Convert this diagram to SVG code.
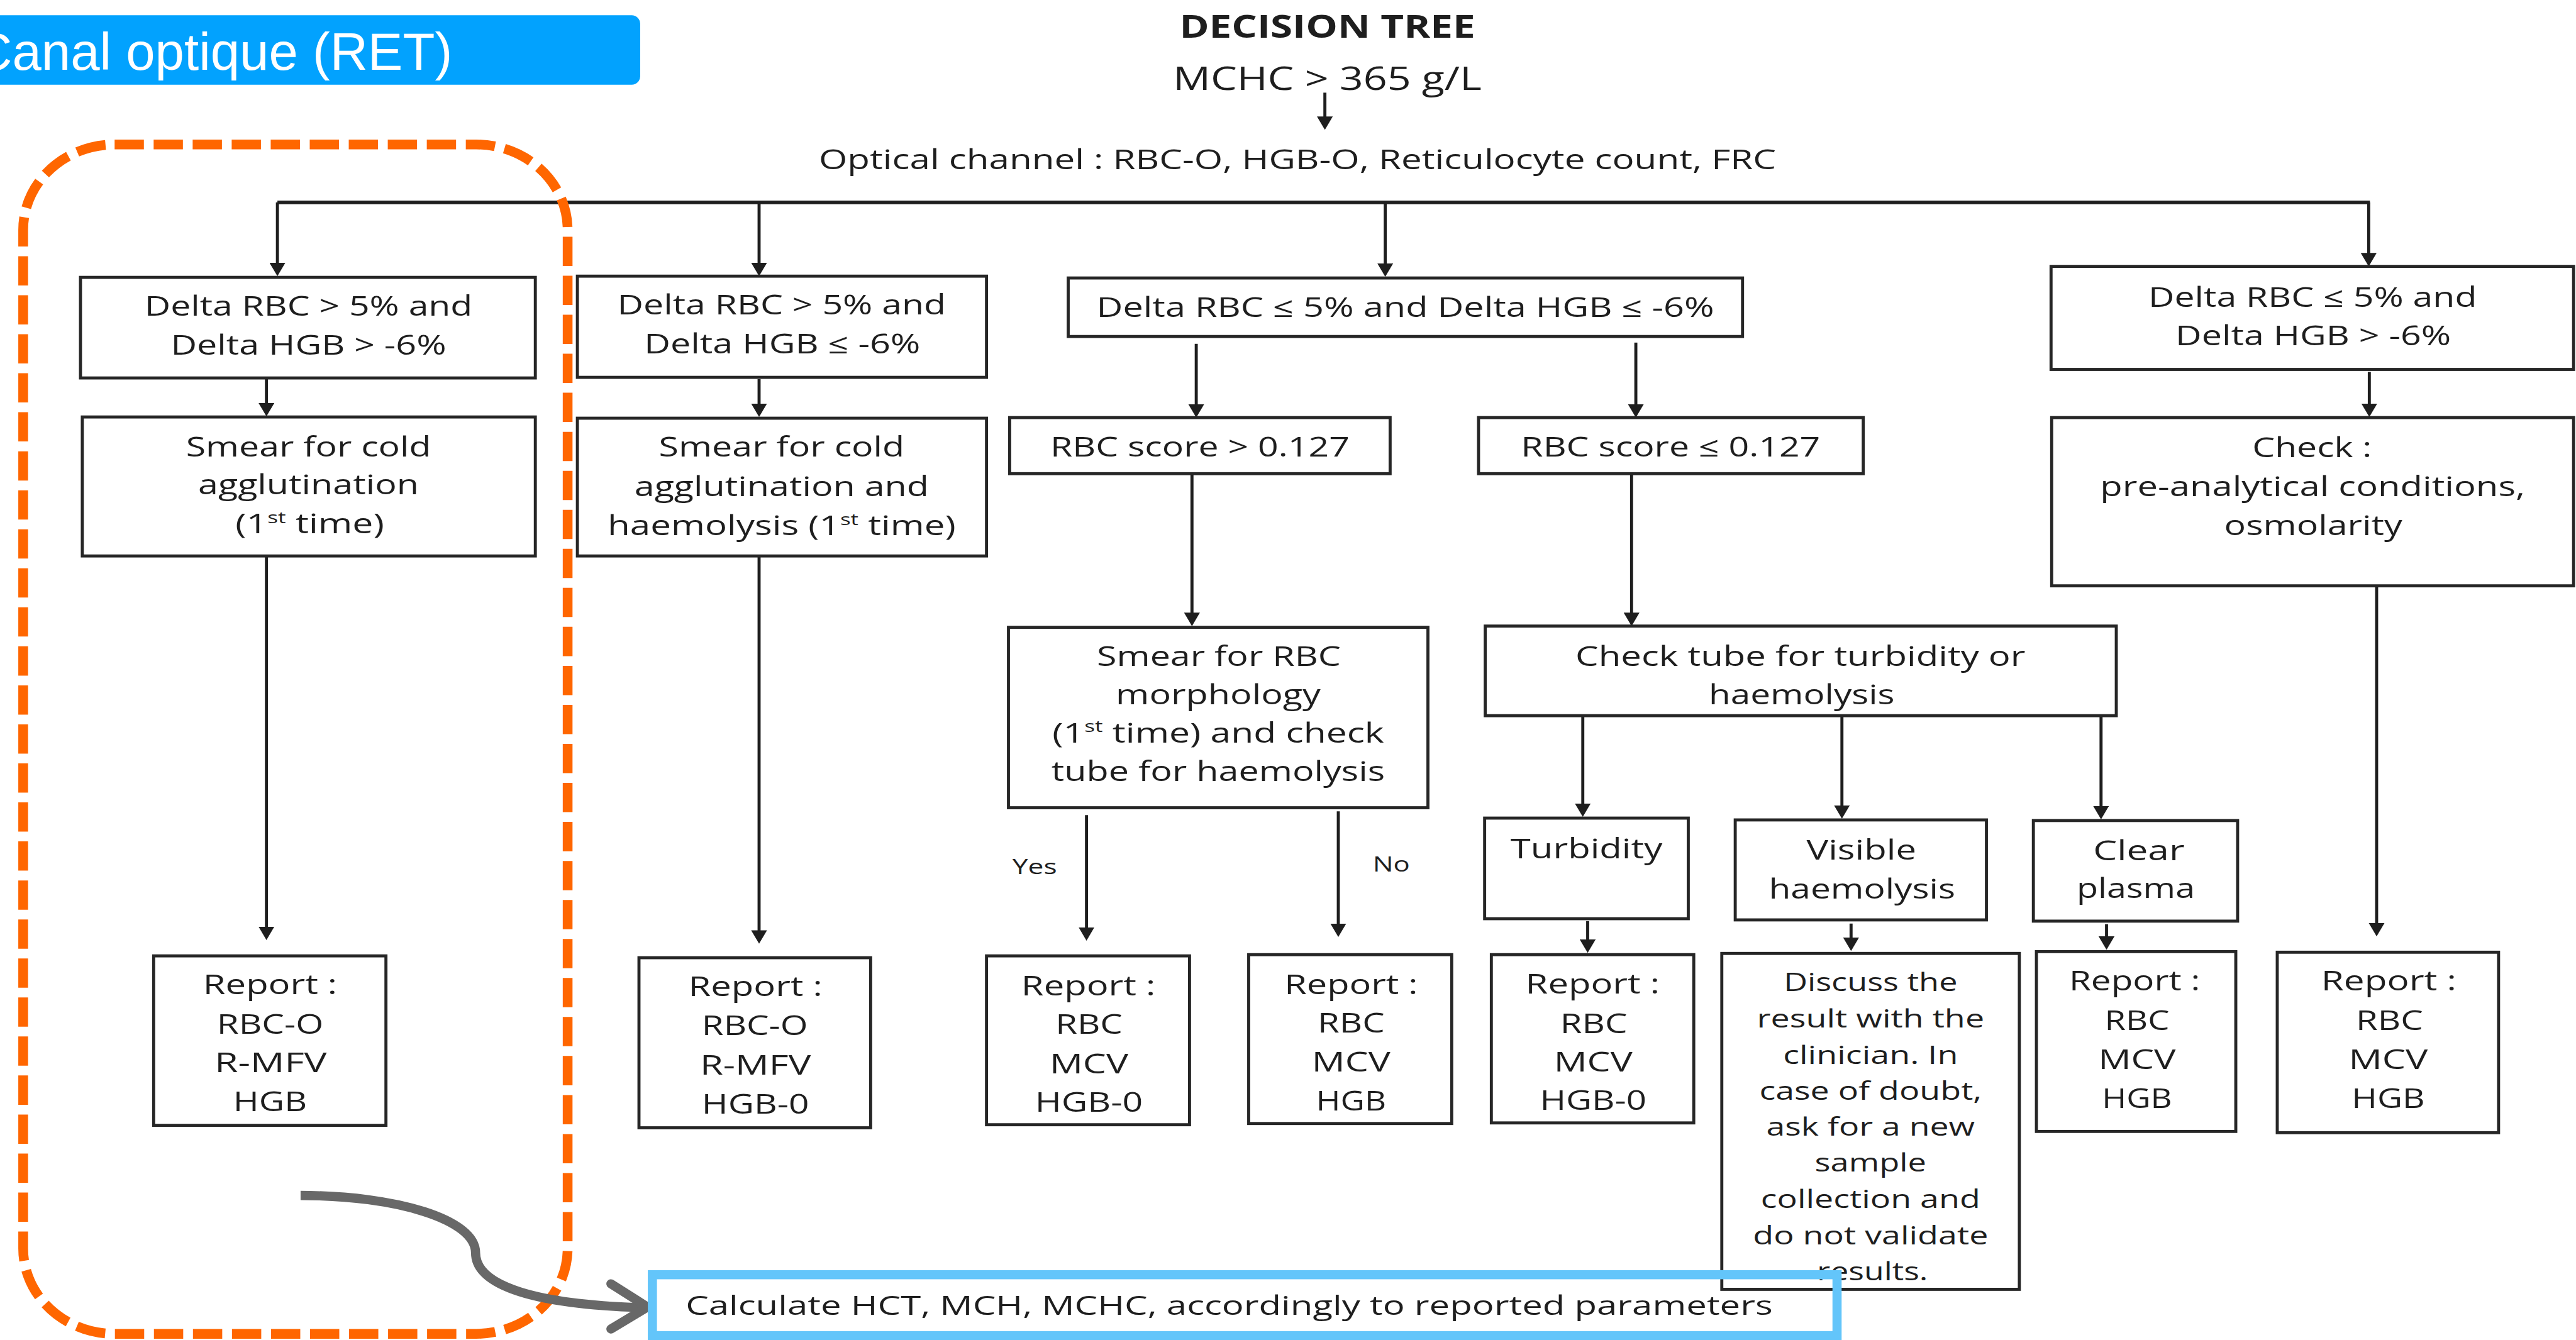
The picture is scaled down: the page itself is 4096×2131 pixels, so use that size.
<svg xmlns="http://www.w3.org/2000/svg" width="4096" height="2131" viewBox="0 0 4096 2131">
<defs>
<style>
.bx{fill:#fff;stroke:#262626;stroke-width:5}
.t{font-family:"Open Sans","DejaVu Sans",sans-serif;font-size:45px;fill:#1e1e1e;text-anchor:middle}
.s{font-size:41px}
.yn{font-size:34px}
.big{font-size:52px}
.bold{font-weight:bold}
.sup{font-size:27px}
.c{stroke:#1e1e1e;stroke-width:5;fill:none;marker-end:url(#ah)}
</style>
<marker id="ah" markerUnits="userSpaceOnUse" viewBox="0 0 22 26" refX="10" refY="13" markerWidth="22" markerHeight="26" orient="auto">
<path d="M0,0 L22,13 L0,26 z" fill="#1e1e1e"/>
</marker>
</defs>
<rect x="0" y="0" width="4096" height="2131" fill="#fff"/>
<g transform="scale(0.96947)">

<g id="header">
<text class="t big bold" x="2177" y="62" textLength="485" lengthAdjust="spacingAndGlyphs">DECISION TREE</text>
<text class="t big" x="2177" y="147" textLength="506" lengthAdjust="spacingAndGlyphs">MCHC &gt; 365 g/L</text>
<text class="t" x="2128" y="277" textLength="1570" lengthAdjust="spacingAndGlyphs">Optical channel : RBC-O, HGB-O, Reticulocyte count, FRC</text>
</g>

<g id="connectors">
<line class="c" x1="2173" y1="152" x2="2173" y2="201"/>
<line x1="455" y1="332" x2="3887" y2="332" stroke="#1e1e1e" stroke-width="6"/>
<line class="c" x1="455" y1="332" x2="455" y2="441"/>
<line class="c" x1="1245" y1="332" x2="1245" y2="441"/>
<line class="c" x1="2272" y1="332" x2="2272" y2="442"/>
<line class="c" x1="3885" y1="332" x2="3885" y2="425"/>
<line class="c" x1="437" y1="622" x2="437" y2="671"/>
<line class="c" x1="1245" y1="622" x2="1245" y2="672"/>
<line class="c" x1="1962" y1="564" x2="1962" y2="673"/>
<line class="c" x1="2683" y1="562" x2="2683" y2="673"/>
<line class="c" x1="3886" y1="610" x2="3886" y2="672"/>
<line class="c" x1="1955" y1="777" x2="1955" y2="1015"/>
<line class="c" x1="2676" y1="777" x2="2676" y2="1015"/>
<line class="c" x1="2596" y1="1174" x2="2596" y2="1328"/>
<line class="c" x1="3021" y1="1174" x2="3021" y2="1331"/>
<line class="c" x1="3446" y1="1174" x2="3446" y2="1332"/>
<line class="c" x1="437" y1="912" x2="437" y2="1530"/>
<line class="c" x1="1245" y1="912" x2="1245" y2="1536"/>
<line class="c" x1="1782" y1="1337" x2="1782" y2="1531"/>
<line class="c" x1="2195" y1="1331" x2="2195" y2="1525"/>
<line class="c" x1="2604" y1="1511" x2="2604" y2="1551"/>
<line class="c" x1="3036" y1="1515" x2="3036" y2="1548"/>
<line class="c" x1="3455" y1="1516" x2="3455" y2="1546"/>
<line class="c" x1="3898" y1="961" x2="3898" y2="1524"/>
</g>

<g id="n-delta1">
<rect class="bx" x="132" y="455" width="746" height="165"/>
<text class="t" x="506" y="518" textLength="538" lengthAdjust="spacingAndGlyphs">Delta RBC &gt; 5% and</text>
<text class="t" x="506" y="582" textLength="452" lengthAdjust="spacingAndGlyphs">Delta HGB &gt; -6%</text>
</g>
<g id="n-smear1">
<rect class="bx" x="135" y="684" width="743" height="228"/>
<text class="t" x="506" y="749" textLength="402" lengthAdjust="spacingAndGlyphs">Smear for cold</text>
<text class="t" x="506" y="811" textLength="362" lengthAdjust="spacingAndGlyphs">agglutination</text>
<text class="t" x="508" y="875" textLength="244" lengthAdjust="spacingAndGlyphs">(1<tspan class="sup" dy="-17">st</tspan><tspan dy="17"> time)</tspan></text>
</g>
<g id="n-delta2">
<rect class="bx" x="947" y="453" width="671" height="166"/>
<text class="t" x="1282" y="516" textLength="539" lengthAdjust="spacingAndGlyphs">Delta RBC &gt; 5% and</text>
<text class="t" x="1283" y="580" textLength="453" lengthAdjust="spacingAndGlyphs">Delta HGB ≤ -6%</text>
</g>
<g id="n-smear2">
<rect class="bx" x="947" y="686" width="671" height="226"/>
<text class="t" x="1282" y="749" textLength="403" lengthAdjust="spacingAndGlyphs">Smear for cold</text>
<text class="t" x="1282" y="814" textLength="483" lengthAdjust="spacingAndGlyphs">agglutination and</text>
<text class="t" x="1282" y="878" textLength="571" lengthAdjust="spacingAndGlyphs">haemolysis (1<tspan class="sup" dy="-17">st</tspan><tspan dy="17"> time)</tspan></text>
</g>
<g id="n-delta3">
<rect class="bx" x="1752" y="456" width="1106" height="96"/>
<text class="t" x="2305" y="520" textLength="1013" lengthAdjust="spacingAndGlyphs">Delta RBC ≤ 5% and Delta HGB ≤ -6%</text>
</g>
<g id="n-delta4">
<rect class="bx" x="3364" y="437" width="857" height="169"/>
<text class="t" x="3793" y="503" textLength="539" lengthAdjust="spacingAndGlyphs">Delta RBC ≤ 5% and</text>
<text class="t" x="3794" y="566" textLength="452" lengthAdjust="spacingAndGlyphs">Delta HGB &gt; -6%</text>
</g>
<g id="n-check">
<rect class="bx" x="3365" y="685" width="856" height="276"/>
<text class="t" x="3792" y="750" textLength="196" lengthAdjust="spacingAndGlyphs">Check :</text>
<text class="t" x="3793" y="814" textLength="697" lengthAdjust="spacingAndGlyphs">pre-analytical conditions,</text>
<text class="t" x="3794" y="878" textLength="292" lengthAdjust="spacingAndGlyphs">osmolarity</text>
</g>
<g id="n-score-hi">
<rect class="bx" x="1656" y="685" width="624" height="92"/>
<text class="t" x="1968" y="749" textLength="491" lengthAdjust="spacingAndGlyphs">RBC score &gt; 0.127</text>
</g>
<g id="n-score-lo">
<rect class="bx" x="2425" y="685" width="631" height="92"/>
<text class="t" x="2740" y="749" textLength="491" lengthAdjust="spacingAndGlyphs">RBC score ≤ 0.127</text>
</g>
<g id="n-smear-rbc">
<rect class="bx" x="1654" y="1029" width="688" height="296"/>
<text class="t" x="1999" y="1092" textLength="400" lengthAdjust="spacingAndGlyphs">Smear for RBC</text>
<text class="t" x="1998" y="1155" textLength="336" lengthAdjust="spacingAndGlyphs">morphology</text>
<text class="t" x="1998" y="1218" textLength="544" lengthAdjust="spacingAndGlyphs">(1<tspan class="sup" dy="-17">st</tspan><tspan dy="17"> time) and check</tspan></text>
<text class="t" x="1998" y="1281" textLength="547" lengthAdjust="spacingAndGlyphs">tube for haemolysis</text>
</g>
<g id="n-tube">
<rect class="bx" x="2436" y="1027" width="1035" height="147"/>
<text class="t" x="2953" y="1092" textLength="738" lengthAdjust="spacingAndGlyphs">Check tube for turbidity or</text>
<text class="t" x="2955" y="1155" textLength="305" lengthAdjust="spacingAndGlyphs">haemolysis</text>
</g>
<g id="n-turbidity">
<rect class="bx" x="2435" y="1342" width="334" height="165"/>
<text class="t" x="2602" y="1408" textLength="249" lengthAdjust="spacingAndGlyphs">Turbidity</text>
</g>
<g id="n-visible">
<rect class="bx" x="2846" y="1345" width="412" height="164"/>
<text class="t" x="3053" y="1410" textLength="180" lengthAdjust="spacingAndGlyphs">Visible</text>
<text class="t" x="3054" y="1474" textLength="306" lengthAdjust="spacingAndGlyphs">haemolysis</text>
</g>
<g id="n-clear">
<rect class="bx" x="3335" y="1346" width="335" height="165"/>
<text class="t" x="3508" y="1411" textLength="150" lengthAdjust="spacingAndGlyphs">Clear</text>
<text class="t" x="3503" y="1473" textLength="194" lengthAdjust="spacingAndGlyphs">plasma</text>
</g>

<g id="n-report1">
<rect class="bx" x="252" y="1568" width="381" height="278"/>
<text class="t" x="443" y="1631" textLength="220" lengthAdjust="spacingAndGlyphs">Report :</text>
<text class="t" x="443" y="1696" textLength="175" lengthAdjust="spacingAndGlyphs">RBC-O</text>
<text class="t" x="444" y="1759" textLength="184" lengthAdjust="spacingAndGlyphs">R-MFV</text>
<text class="t" x="443" y="1823" textLength="121" lengthAdjust="spacingAndGlyphs">HGB</text>
</g>
<g id="n-report2">
<rect class="bx" x="1048" y="1571" width="380" height="279"/>
<text class="t" x="1239" y="1634" textLength="220" lengthAdjust="spacingAndGlyphs">Report :</text>
<text class="t" x="1238" y="1698" textLength="174" lengthAdjust="spacingAndGlyphs">RBC-O</text>
<text class="t" x="1239" y="1763" textLength="182" lengthAdjust="spacingAndGlyphs">R-MFV</text>
<text class="t" x="1239" y="1827" textLength="176" lengthAdjust="spacingAndGlyphs">HGB-0</text>
</g>
<g id="n-report-yes">
<rect class="bx" x="1618" y="1568" width="333" height="277"/>
<text class="t" x="1785" y="1633" textLength="220" lengthAdjust="spacingAndGlyphs">Report :</text>
<text class="t" x="1786" y="1696" textLength="110" lengthAdjust="spacingAndGlyphs">RBC</text>
<text class="t" x="1786" y="1761" textLength="129" lengthAdjust="spacingAndGlyphs">MCV</text>
<text class="t" x="1786" y="1824" textLength="177" lengthAdjust="spacingAndGlyphs">HGB-0</text>
</g>
<g id="n-report-no">
<rect class="bx" x="2048" y="1566" width="333" height="277"/>
<text class="t" x="2216" y="1631" textLength="219" lengthAdjust="spacingAndGlyphs">Report :</text>
<text class="t" x="2216" y="1694" textLength="110" lengthAdjust="spacingAndGlyphs">RBC</text>
<text class="t" x="2216" y="1758" textLength="129" lengthAdjust="spacingAndGlyphs">MCV</text>
<text class="t" x="2216" y="1822" textLength="115" lengthAdjust="spacingAndGlyphs">HGB</text>
</g>
<g id="n-report-turb">
<rect class="bx" x="2446" y="1566" width="332" height="276"/>
<text class="t" x="2612" y="1630" textLength="220" lengthAdjust="spacingAndGlyphs">Report :</text>
<text class="t" x="2614" y="1695" textLength="110" lengthAdjust="spacingAndGlyphs">RBC</text>
<text class="t" x="2613" y="1758" textLength="129" lengthAdjust="spacingAndGlyphs">MCV</text>
<text class="t" x="2613" y="1821" textLength="175" lengthAdjust="spacingAndGlyphs">HGB-0</text>
</g>
<g id="n-discuss">
<rect class="bx" x="2824" y="1564" width="488" height="551"/>
<text class="t s" x="3068" y="1626" textLength="285" lengthAdjust="spacingAndGlyphs">Discuss the</text>
<text class="t s" x="3068" y="1685" textLength="373" lengthAdjust="spacingAndGlyphs">result with the</text>
<text class="t s" x="3068" y="1745" textLength="287" lengthAdjust="spacingAndGlyphs">clinician. In</text>
<text class="t s" x="3068" y="1804" textLength="365" lengthAdjust="spacingAndGlyphs">case of doubt,</text>
<text class="t s" x="3068" y="1863" textLength="342" lengthAdjust="spacingAndGlyphs">ask for a new</text>
<text class="t s" x="3068" y="1922" textLength="183" lengthAdjust="spacingAndGlyphs">sample</text>
<text class="t s" x="3068" y="1982" textLength="360" lengthAdjust="spacingAndGlyphs">collection and</text>
<text class="t s" x="3068" y="2041" textLength="386" lengthAdjust="spacingAndGlyphs">do not validate</text>
<text class="t s" x="3071" y="2100" textLength="182" lengthAdjust="spacingAndGlyphs">results.</text>
</g>
<g id="n-report-clear">
<rect class="bx" x="3340" y="1561" width="327" height="295"/>
<text class="t" x="3501" y="1625" textLength="215" lengthAdjust="spacingAndGlyphs">Report :</text>
<text class="t" x="3505" y="1690" textLength="106" lengthAdjust="spacingAndGlyphs">RBC</text>
<text class="t" x="3505" y="1754" textLength="127" lengthAdjust="spacingAndGlyphs">MCV</text>
<text class="t" x="3505" y="1817" textLength="115" lengthAdjust="spacingAndGlyphs">HGB</text>
</g>
<g id="n-report-far">
<rect class="bx" x="3735" y="1562" width="363" height="296"/>
<text class="t" x="3918" y="1625" textLength="222" lengthAdjust="spacingAndGlyphs">Report :</text>
<text class="t" x="3919" y="1690" textLength="110" lengthAdjust="spacingAndGlyphs">RBC</text>
<text class="t" x="3917" y="1754" textLength="130" lengthAdjust="spacingAndGlyphs">MCV</text>
<text class="t" x="3917" y="1817" textLength="120" lengthAdjust="spacingAndGlyphs">HGB</text>
</g>
<g id="labels">
<text class="t yn" x="1697" y="1434" textLength="73" lengthAdjust="spacingAndGlyphs">Yes</text>
<text class="t yn" x="2282" y="1430" textLength="61" lengthAdjust="spacingAndGlyphs">No</text>
</g>

<g id="highlight">
<rect x="38" y="237" width="893" height="1951" rx="150" ry="140" fill="none" stroke="#ff6600" stroke-width="16" stroke-dasharray="48 16"/>
</g>
<g id="title-bar">
<rect x="-30" y="25" width="1080" height="114" rx="14" fill="#02a2fe"/>
<text x="-42" y="114" font-family="Liberation Sans, Arial, sans-serif" font-size="86" fill="#fff">Canal optique (RET)</text>
</g>
<g id="pointer">
<path d="M493,1961 C650,1961 780,2000 780,2055 C780,2110 880,2140 1055,2145" fill="none" stroke="#686868" stroke-width="15"/>
<path d="M1002,2106 L1062,2144 L1002,2180" fill="none" stroke="#686868" stroke-width="15" stroke-linecap="round" stroke-linejoin="round"/>
</g>
<g id="n-calc">
<rect x="1070" y="2091" width="1943" height="100" fill="none" stroke="#63c5fa" stroke-width="15"/>
<text class="t" x="2016" y="2157" textLength="1783" lengthAdjust="spacingAndGlyphs" style="font-size:44px">Calculate HCT, MCH, MCHC, accordingly to reported parameters</text>
</g>
</g>
</svg>
